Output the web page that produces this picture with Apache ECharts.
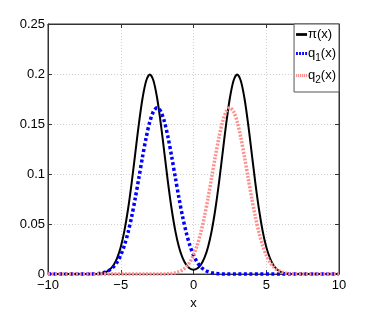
<!DOCTYPE html>
<html>
<head>
<meta charset="utf-8">
<script src="https://cdn.jsdelivr.net/npm/echarts@6/dist/echarts.min.js"></script>
<style>html,body{margin:0;padding:0;background:#fff;}#c{width:374px;height:315px;}</style>
</head>
<body>
<div id="c"></div>
<script>
var xs = [-10,-9.75,-9.5,-9.25,-9,-8.75,-8.5,-8.25,-8,-7.75,-7.5,-7.25,-7,-6.75,-6.5,-6.25,-6,-5.75,-5.5,-5.25,-5,-4.75,-4.5,-4.25,-4,-3.75,-3.5,-3.25,-3,-2.75,-2.5,-2.25,-2,-1.75,-1.5,-1.25,-1,-0.75,-0.5,-0.25,0,0.25,0.5,0.75,1,1.25,1.5,1.75,2,2.25,2.5,2.75,3,3.25,3.5,3.75,4,4.25,4.5,4.75,5,5.25,5.5,5.75,6,6.25,6.5,6.75,7,7.25,7.5,7.75,8,8.25,8.5,8.75,9,9.25,9.5,9.75,10];

var piVals = [0,0,0,0,0,0,0,0,0,0,0,0,0.0001,0.0002,0.0004,0.0010,0.0022,0.0046,0.0088,0.0159,0.0270,0.0432,0.0648,0.0913,0.1210,0.1506,0.1760,0.1933,0.1995,0.1933,0.1760,0.1506,0.1210,0.0913,0.0648,0.0432,0.0271,0.0161,0.0092,0.0056,0.0044,0.0056,0.0092,0.0161,0.0271,0.0432,0.0648,0.0913,0.1210,0.1506,0.1760,0.1933,0.1995,0.1933,0.1760,0.1506,0.1210,0.0913,0.0648,0.0432,0.0270,0.0159,0.0088,0.0046,0.0022,0.0010,0.0004,0.0002,0.0001,0,0,0,0,0,0,0,0,0,0,0,0];

var q1Vals = [0,0,0,0,0,0,0,0,0,0,0,0.0001,0.0001,0.0003,0.0006,0.0013,0.0024,0.0042,0.0073,0.0120,0.0190,0.0287,0.0415,0.0574,0.0761,0.0966,0.1175,0.1367,0.1524,0.1626,0.1662,0.1626,0.1524,0.1367,0.1175,0.0966,0.0761,0.0574,0.0415,0.0287,0.0190,0.0120,0.0073,0.0042,0.0024,0.0013,0.0006,0.0003,0.0001,0.0001,0,0,0,0,0,0,0,0,0,0,0,0,0,0,0,0,0,0,0,0,0,0,0,0,0,0,0,0,0,0,0];

var q2Vals = [0,0,0,0,0,0,0,0,0,0,0,0,0,0,0,0,0,0,0,0,0,0,0,0,0,0,0,0,0,0,0,0.0001,0.0001,0.0003,0.0006,0.0013,0.0024,0.0042,0.0073,0.0120,0.0190,0.0287,0.0415,0.0574,0.0761,0.0966,0.1175,0.1367,0.1524,0.1626,0.1662,0.1626,0.1524,0.1367,0.1175,0.0966,0.0761,0.0574,0.0415,0.0287,0.0190,0.0120,0.0073,0.0042,0.0024,0.0013,0.0006,0.0003,0.0001,0.0001,0,0,0,0,0,0,0,0,0,0,0];

var seriesNames = ['π(x)', 'q1(x)', 'q2(x)'];
var legendLabels = {'π(x)': '{a|π(x)}', 'q1(x)': '{a|q}{s|1}{a|(x)}', 'q2(x)': '{a|q}{s|2}{a|(x)}'};
var xTicks = {min: -10, max: 10, step: 5};
var yTicks = {min: 0, max: 0.25, step: 0.05};

function pairs(v) { return xs.map(function (x, i) { return [x, v[i]]; }); }

var FONT = 'Liberation Sans, Arial, Helvetica, sans-serif';
var chart = echarts.init(document.getElementById('c'), null, {renderer: 'canvas'});
var gridLine = {show: true, lineStyle: {color: '#d0d0d0', type: [1, 2], width: 1}};
var solidIcon = 'path://M0,0H12V3H0Z';
var dotIcon = 'path://M0,0H2V3H0Z M3.3,0H5.3V3H3.3Z M6.6,0H8.6V3H6.6Z M9.9,0H11.9V3H9.9Z';
var fineDotIcon = 'path://M0,0H1.2V3H0Z M2,0H3.2V3H2Z M4,0H5.2V3H4Z M6,0H7.2V3H6Z M8,0H9.2V3H8Z M10,0H11.2V3H10Z';
chart.setOption({
  animation: false,
  backgroundColor: '#fff',
  textStyle: {fontFamily: FONT},
  grid: {left: 48, right: 35, top: 24, bottom: 35, show: true, borderColor: '#333', borderWidth: 1, backgroundColor: 'transparent'},
  legend: {
    orient: 'vertical', right: 35, top: 24,
    data: [
      {name: seriesNames[0], icon: solidIcon, itemStyle: {color: '#000'}},
      {name: seriesNames[1], icon: dotIcon, itemStyle: {color: '#0000ff'}},
      {name: seriesNames[2], icon: fineDotIcon, itemStyle: {color: '#ff9090'}}
    ],
    formatter: function (n) { return legendLabels[n]; },
    backgroundColor: '#fff', borderColor: '#555', borderWidth: 1,
    padding: [4, 3, 7, 2], itemGap: 6, itemWidth: 11, itemHeight: 3,
    textStyle: {fontSize: 13, color: '#000', fontFamily: FONT, padding: [0, 0, 0, -4],
      rich: {
        a: {fontSize: 13, lineHeight: 19, fontFamily: FONT, color: '#000'},
        s: {fontSize: 10, lineHeight: 10, verticalAlign: 'bottom', fontFamily: FONT, color: '#000'}
      }}
  },
  xAxis: [{
    type: 'value', min: xTicks.min, max: xTicks.max, interval: xTicks.step,
    name: 'x', nameLocation: 'middle', nameGap: 22,
    nameTextStyle: {fontSize: 13, color: '#000', fontFamily: FONT},
    axisLine: {onZero: false, lineStyle: {color: '#333'}},
    axisTick: {inside: true, length: 4, lineStyle: {color: '#333'}},
    axisLabel: {fontSize: 13, color: '#000', margin: 5, fontFamily: FONT,
      formatter: function (v) { return String(v).replace('-', '\u2212'); }},
    splitLine: gridLine
  }, {
    type: 'value', position: 'top', min: xTicks.min, max: xTicks.max, interval: xTicks.step,
    axisLine: {onZero: false, lineStyle: {color: '#333'}},
    axisTick: {inside: true, length: 4, lineStyle: {color: '#333'}},
    axisLabel: {show: false}, splitLine: {show: false}
  }],
  yAxis: [{
    type: 'value', min: yTicks.min, max: yTicks.max, interval: yTicks.step,
    axisLine: {show: true, onZero: false, lineStyle: {color: '#333'}},
    axisTick: {show: true, inside: true, length: 4, lineStyle: {color: '#333'}},
    axisLabel: {fontSize: 13, color: '#000', margin: 3, fontFamily: FONT,
      formatter: function (v) { return String(+v.toFixed(2)); }},
    splitLine: gridLine
  }, {
    type: 'value', position: 'right', min: yTicks.min, max: yTicks.max, interval: yTicks.step,
    axisLine: {show: true, onZero: false, lineStyle: {color: '#333'}},
    axisTick: {show: true, inside: true, length: 4, lineStyle: {color: '#333'}},
    axisLabel: {show: false}, splitLine: {show: false}
  }],
  series: [
    {name: seriesNames[0], type: 'line', data: pairs(piVals), showSymbol: false, symbol: 'none', clip: false, smooth: 0.3,
     lineStyle: {color: '#000', width: 2}, itemStyle: {color: '#000'}, z: 2},
    {name: seriesNames[1], type: 'line', data: pairs(q1Vals), showSymbol: false, symbol: 'none', clip: false, smooth: 0.3,
     lineStyle: {color: '#0000ff', width: 3.5, type: [3, 2.5], cap: 'butt'}, itemStyle: {color: '#0000ff'}, z: 3},
    {name: seriesNames[2], type: 'line', data: pairs(q2Vals), showSymbol: false, symbol: 'none', clip: false, smooth: 0.3,
     lineStyle: {color: '#ff9090', width: 3.5, type: [2, 1.5], cap: 'butt'}, itemStyle: {color: '#ff9090'}, z: 4}
  ]
});
</script>
</body>
</html>
